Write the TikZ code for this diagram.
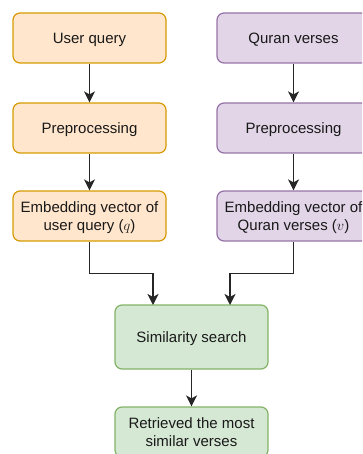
\documentclass[tikz,border=0pt]{standalone}
\usepackage{fontspec}
\setmainfont{Liberation Sans}
\usetikzlibrary{arrows.meta}
\definecolor{ofill}{HTML}{FFE6CC}
\definecolor{odraw}{HTML}{D79B00}
\definecolor{pfill}{HTML}{E1D5E7}
\definecolor{pdraw}{HTML}{9673A6}
\definecolor{gfill}{HTML}{D5E8D4}
\definecolor{gdraw}{HTML}{82B366}
\tikzset{
  box/.style={rounded corners=7pt, line width=1.2pt, minimum width=153pt, minimum height=50pt,
    align=center, inner sep=0pt, text depth=0pt, font=\fontsize{15}{18}\selectfont, text=black!90},
  obox/.style={box, fill=ofill, draw=odraw},
  pbox/.style={box, fill=pfill, draw=pdraw},
  gbox/.style={box, fill=gfill, draw=gdraw},
  conn/.style={line width=1.6pt, black!85, -{Stealth[length=11pt,width=11pt,inset=3pt]}}
}
\begin{document}
\begin{tikzpicture}[x=1pt,y=-1pt]
\useasboundingbox (0,0) rectangle (362,454);
\clip (0,0) rectangle (362,454);
\node[obox] (uq) at (89.5,38) {User query};
\node[obox] (up) at (89.5,128) {Preprocessing};
\node[obox] (ue) at (89.5,216) {Embedding vector of\\user query ($q$)};
\node[pbox] (qv) at (293.5,38) {Quran verses};
\node[pbox] (qp) at (293.5,128) {Preprocessing};
\node[pbox] (qe) at (293.5,216) {Embedding vector of\\Quran verses ($v$)};
\node[gbox, minimum height=64pt] (ss) at (191.5,337) {Similarity search};
\node[gbox] (rt) at (191.5,432) {Retrieved the most\\similar verses};
\draw[conn] (uq) -- (up);
\draw[conn] (up) -- (ue);
\draw[conn] (qv) -- (qp);
\draw[conn] (qp) -- (qe);
\coordinate (lt) at (153,305);
\coordinate (rt2) at (230,305);
\draw[conn] (ue.south) -- ++(0,32) -| (lt);
\draw[conn] (qe.south) -- ++(0,32) -| (rt2);
\draw[conn] (ss) -- (rt);
\end{tikzpicture}
\end{document}
